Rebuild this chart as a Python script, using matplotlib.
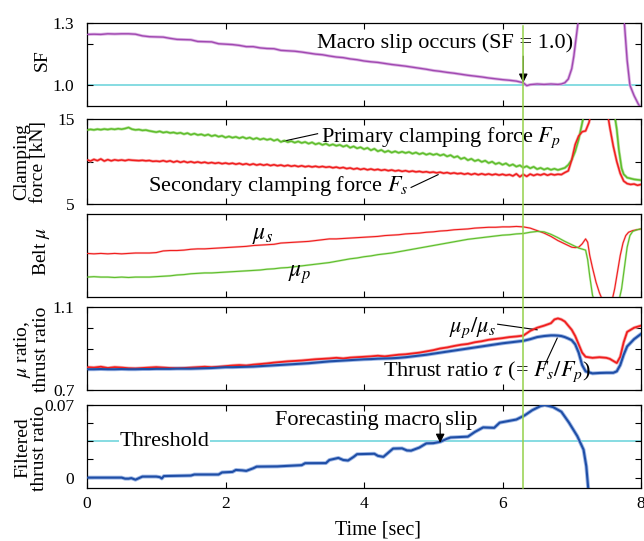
import numpy as np
import matplotlib
matplotlib.use("Agg")
import matplotlib.pyplot as plt
from matplotlib.lines import Line2D

plt.rcParams['font.family'] = ['Liberation Serif', 'DejaVu Serif']
plt.rcParams['mathtext.fontset'] = 'stix'

# ---------------- data ----------------
# Safety factor
sf_t = [0.0, 0.1, 0.2, 0.3, 0.4, 0.5, 0.6, 0.7, 0.8, 0.9,
        1.0, 1.1, 1.2, 1.3, 1.4, 1.5, 1.6, 1.7, 1.8, 1.9,
        2.0, 2.1, 2.2, 2.3, 2.4, 2.5, 2.6, 2.7, 2.8, 2.9,
        3.0, 3.1, 3.2, 3.3, 3.4, 3.5, 3.6, 3.7, 3.8, 3.9,
        4.0, 4.1, 4.2, 4.3, 4.4, 4.5, 4.6, 4.7, 4.8, 4.9,
        5.0, 5.1, 5.2, 5.3, 5.4, 5.5, 5.6, 5.7, 5.8, 5.9,
        6.0, 6.1, 6.2, 6.3, 6.35, 6.4, 6.5, 6.6, 6.7, 6.8, 6.85,
        6.9, 6.95, 7.0, 7.03, 7.06, 7.09, 7.12, 7.72, 7.76, 7.8,
        7.84, 7.9, 7.96, 8.0]
sf = [1.245, 1.246, 1.245, 1.248, 1.247, 1.248, 1.248, 1.246, 1.238, 1.234,
      1.233, 1.232, 1.226, 1.221, 1.220, 1.219, 1.211, 1.210, 1.209, 1.200,
      1.198, 1.196, 1.192, 1.186, 1.186, 1.180, 1.177, 1.176, 1.168, 1.166,
      1.164, 1.160, 1.155, 1.150, 1.147, 1.141, 1.136, 1.133, 1.127, 1.123,
      1.117, 1.113, 1.110, 1.105, 1.100, 1.096, 1.092, 1.087, 1.082, 1.077,
      1.071, 1.067, 1.062, 1.058, 1.053, 1.048, 1.044, 1.040, 1.035, 1.031,
      1.027, 1.024, 1.020, 1.012, 0.998, 1.003, 1.006, 1.004, 1.006, 1.004, 1.006,
      1.012, 1.030, 1.080, 1.140, 1.220, 1.300, 1.380, 1.380, 1.300, 1.120,
      1.000, 0.950, 0.910, 0.890]

# Clamping forces [kN], sampled every 0.05 s up to 6.95 s
force_t = np.round(np.arange(0, 7.0, 0.05), 2)
fp_main = [
    13.70, 13.78, 13.72, 13.80, 13.74, 13.82, 13.76, 13.84, 13.78, 13.86, 13.80, 13.88, 14.00, 13.80, 13.72, 13.76, 13.66, 13.70, 13.60, 13.52,
    13.45, 13.55, 13.40, 13.48, 13.36, 13.42, 13.30, 13.38, 13.22, 13.34, 13.15, 13.28, 13.12, 13.20, 13.05, 13.18, 12.98, 13.10, 12.92, 13.02,
    12.82, 12.95, 12.80, 12.90, 12.74, 12.88, 12.70, 12.82, 12.62, 12.76, 12.58, 12.70, 12.55, 12.66, 12.45, 12.60, 12.30, 12.46, 12.28, 12.40,
    12.22, 12.36, 12.18, 12.30, 12.10, 12.25, 12.02, 12.16, 11.95, 12.10, 11.88, 12.02, 11.85, 11.96, 11.75, 11.90, 11.62, 11.78, 11.55, 11.68,
    11.45, 11.60, 11.32, 11.50, 11.20, 11.36, 11.10, 11.26, 11.05, 11.20, 11.02, 11.15, 11.00, 11.12, 10.92, 11.06, 10.86, 11.00, 10.80, 10.94,
    10.78, 10.90, 10.70, 10.84, 10.60, 10.75, 10.48, 10.62, 10.30, 10.45, 10.15, 10.32, 10.05, 10.20, 9.95, 10.10, 9.82, 9.98, 9.70, 9.85,
    9.62, 9.78, 9.50, 9.66, 9.40, 9.55, 9.28, 9.45, 9.20, 9.38, 9.10, 9.25, 9.05, 9.20, 9.02, 9.15, 9.00, 9.12, 9.25, 9.60]
fp_tail_t = [7.0, 7.05, 7.1, 7.15, 7.2, 7.6, 7.65, 7.68, 7.72, 7.75, 7.8, 7.85, 7.9, 7.95, 8.0]
fp_tail = [10.2, 11.2, 12.6, 14.5, 16.5, 16.5, 13.8, 11.4, 9.2, 8.5, 8.1, 8.0, 7.9, 7.85, 7.8]

fs_main = [
    10.20, 10.05, 10.25, 10.10, 10.30, 10.05, 10.22, 10.08, 10.20, 10.12, 10.18, 10.10, 10.20, 10.15, 10.12, 10.10, 10.14, 10.08, 10.12, 10.02,
    10.05, 10.00, 10.10, 9.98, 10.08, 9.92, 10.05, 9.90, 10.02, 9.88, 9.98, 9.86, 9.95, 9.84, 9.92, 9.80, 9.88, 9.78, 9.86, 9.74,
    9.82, 9.72, 9.80, 9.68, 9.78, 9.64, 9.74, 9.60, 9.72, 9.58, 9.68, 9.56, 9.66, 9.52, 9.62, 9.50, 9.58, 9.46, 9.56, 9.44,
    9.52, 9.40, 9.50, 9.38, 9.46, 9.36, 9.44, 9.34, 9.42, 9.32, 9.38, 9.26, 9.34, 9.22, 9.30, 9.16, 9.24, 9.10, 9.20, 9.06,
    9.16, 9.02, 9.12, 9.00, 9.08, 8.96, 9.04, 8.92, 9.00, 8.88, 8.96, 8.84, 8.92, 8.80, 8.88, 8.78, 8.84, 8.74, 8.80, 8.70,
    8.76, 8.66, 8.74, 8.62, 8.70, 8.58, 8.66, 8.56, 8.62, 8.50, 8.60, 8.46, 8.58, 8.44, 8.56, 8.44, 8.54, 8.42, 8.52, 8.40,
    8.50, 8.38, 8.46, 8.30, 8.55, 8.20, 8.48, 8.25, 8.52, 8.35, 8.50, 8.40, 8.55, 8.38, 8.52, 8.42, 8.50, 8.46, 8.70, 8.90]
fs_tail_t = [7.0, 7.05, 7.1, 7.15, 7.2, 7.25, 7.3, 7.5, 7.55, 7.6, 7.65, 7.7, 7.75, 7.8, 7.85, 7.9, 7.95, 8.0]
fs_tail = [10.2, 12.0, 13.0, 13.5, 13.6, 14.6, 16.5, 16.5, 14.0, 11.8, 10.0, 8.6, 7.7, 7.4, 7.3, 7.35, 7.2, 7.3]

# Belt friction coefficients (relative scale)
mu_t = [0.0, 0.1, 0.2, 0.3, 0.4, 0.5, 0.6, 0.7, 0.8, 0.9,
        1.0, 1.1, 1.2, 1.3, 1.4, 1.5, 1.6, 1.7, 1.8, 1.9,
        2.0, 2.1, 2.2, 2.3, 2.4, 2.5, 2.6, 2.7, 2.8, 2.9,
        3.0, 3.1, 3.2, 3.3, 3.4, 3.5, 3.6, 3.7, 3.8, 3.9,
        4.0, 4.1, 4.2, 4.3, 4.4, 4.5, 4.6, 4.7, 4.8, 4.9,
        5.0, 5.1, 5.2, 5.3, 5.4, 5.5, 5.6, 5.7, 5.8, 5.9,
        6.0, 6.1, 6.2, 6.3, 6.4, 6.5, 6.6, 6.7, 6.8, 6.9, 7.0]
mu_s_main = [0.525, 0.520, 0.525, 0.520, 0.525, 0.520, 0.525, 0.530, 0.530, 0.530,
             0.535, 0.555, 0.560, 0.560, 0.565, 0.575, 0.580, 0.580, 0.585, 0.590,
             0.595, 0.600, 0.605, 0.610, 0.620, 0.625, 0.630, 0.635, 0.650, 0.655,
             0.660, 0.665, 0.670, 0.680, 0.690, 0.700, 0.700, 0.705, 0.710, 0.715,
             0.720, 0.725, 0.730, 0.740, 0.745, 0.750, 0.760, 0.765, 0.770, 0.780,
             0.785, 0.795, 0.800, 0.810, 0.815, 0.820, 0.830, 0.835, 0.840, 0.840,
             0.845, 0.845, 0.850, 0.845, 0.830, 0.800, 0.770, 0.730, 0.680, 0.640, 0.600]
mu_s_tail_t = [7.05, 7.1, 7.15, 7.2, 7.23, 7.26, 7.3, 7.35, 7.4, 7.45, 7.58, 7.62, 7.66, 7.7, 7.74, 7.78, 7.82, 7.88, 7.94, 8.0]
mu_s_tail = [0.595, 0.600, 0.640, 0.700, 0.660, 0.500, 0.350, 0.180, 0.050, -0.050, -0.050, 0.100, 0.300, 0.500, 0.650, 0.740, 0.780, 0.800, 0.810, 0.820]

mu_p_main = [0.240, 0.245, 0.240, 0.240, 0.235, 0.240, 0.235, 0.240, 0.240, 0.240,
             0.245, 0.250, 0.255, 0.265, 0.270, 0.280, 0.285, 0.290, 0.290, 0.295,
             0.300, 0.305, 0.310, 0.315, 0.320, 0.325, 0.335, 0.340, 0.350, 0.355,
             0.365, 0.375, 0.385, 0.395, 0.405, 0.415, 0.430, 0.445, 0.460, 0.470,
             0.485, 0.495, 0.510, 0.520, 0.530, 0.545, 0.560, 0.575, 0.590, 0.605,
             0.620, 0.635, 0.650, 0.665, 0.680, 0.695, 0.705, 0.715, 0.725, 0.735,
             0.745, 0.750, 0.760, 0.765, 0.780, 0.790, 0.785, 0.755, 0.715, 0.670, 0.630]
mu_p_tail_t = [7.1, 7.2, 7.23, 7.26, 7.3, 7.33, 7.68, 7.72, 7.76, 7.8, 7.84, 7.88, 7.94, 8.0]
mu_p_tail = [0.590, 0.565, 0.450, 0.250, 0.020, -0.050, -0.050, 0.100, 0.350, 0.600, 0.740, 0.790, 0.810, 0.820]

# Friction ratio and thrust ratio
ratio_t = [0.0, 0.1, 0.2, 0.3, 0.4, 0.5, 0.6, 0.7, 0.8, 0.9,
           1.0, 1.1, 1.2, 1.3, 1.4, 1.5, 1.6, 1.7, 1.8, 1.9,
           2.0, 2.1, 2.2, 2.3, 2.4, 2.5, 2.6, 2.7, 2.8, 2.9,
           3.0, 3.1, 3.2, 3.3, 3.4, 3.5, 3.6, 3.7, 3.8, 3.9,
           4.0, 4.1, 4.2, 4.3, 4.4, 4.5, 4.6, 4.7, 4.8, 4.9,
           5.0, 5.1, 5.2, 5.3, 5.4, 5.5, 5.6, 5.7, 5.8, 5.9,
           6.0, 6.1, 6.2, 6.3, 6.4, 6.5, 6.6, 6.7, 6.75, 6.8, 6.85,
           6.9, 6.95, 7.0, 7.05, 7.1, 7.15, 7.2, 7.3, 7.4, 7.5,
           7.55, 7.6, 7.65, 7.7, 7.75, 7.8, 7.9, 8.0]
mu_ratio = [0.810, 0.808, 0.812, 0.806, 0.810, 0.808, 0.805, 0.804, 0.806, 0.808,
            0.810, 0.808, 0.806, 0.805, 0.806, 0.808, 0.810, 0.812, 0.810, 0.812,
            0.815, 0.818, 0.820, 0.818, 0.822, 0.825, 0.828, 0.832, 0.835, 0.838,
            0.840, 0.842, 0.845, 0.848, 0.850, 0.852, 0.855, 0.852, 0.856, 0.858,
            0.860, 0.862, 0.865, 0.862, 0.866, 0.870, 0.872, 0.876, 0.880, 0.886,
            0.892, 0.900, 0.905, 0.912, 0.918, 0.922, 0.930, 0.935, 0.942, 0.946,
            0.950, 0.955, 0.958, 0.962, 0.985, 1.000, 1.010, 1.022, 1.040, 1.045, 1.040,
            1.030, 1.010, 0.990, 0.960, 0.920, 0.880, 0.860, 0.855, 0.858, 0.855,
            0.850, 0.840, 0.830, 0.860, 0.930, 0.980, 1.000, 1.010]
thrust_ratio = [0.800, 0.800, 0.801, 0.800, 0.800, 0.801, 0.800, 0.800, 0.801, 0.801,
                0.802, 0.802, 0.802, 0.803, 0.803, 0.803, 0.804, 0.805, 0.806, 0.808,
                0.810, 0.810, 0.811, 0.812, 0.813, 0.815, 0.817, 0.819, 0.821, 0.823,
                0.825, 0.827, 0.829, 0.832, 0.835, 0.838, 0.840, 0.842, 0.844, 0.846,
                0.848, 0.849, 0.851, 0.852, 0.853, 0.855, 0.858, 0.862, 0.866, 0.870,
                0.875, 0.880, 0.885, 0.890, 0.895, 0.900, 0.905, 0.910, 0.915, 0.920,
                0.925, 0.929, 0.933, 0.937, 0.945, 0.955, 0.960, 0.963, 0.963, 0.962, 0.960,
                0.955, 0.948, 0.940, 0.920, 0.880, 0.820, 0.790, 0.780, 0.782, 0.783,
                0.783, 0.783, 0.790, 0.820, 0.870, 0.910, 0.945, 0.970]

# Filtered thrust ratio
filt_t = [0.0, 0.5, 0.55, 0.6, 0.64, 0.7, 0.75, 0.8, 1.0, 1.05, 1.08, 1.11,
          1.5, 1.55, 1.9, 1.95, 2.1, 2.15, 2.24, 2.3, 2.4, 2.45, 2.75, 2.8,
          3.1, 3.15, 3.45, 3.5, 3.63, 3.7, 3.77, 3.85, 3.9, 4.15, 4.2, 4.28,
          4.35, 4.42, 4.55, 4.62, 4.68, 4.8, 4.9, 5.0, 5.1, 5.2, 5.25, 5.5,
          5.6, 5.72, 5.88, 5.96, 6.2, 6.32, 6.43, 6.55, 6.61, 6.73, 6.85, 6.96,
          7.08, 7.17, 7.21, 7.24]
filt = [0.0000, 0.0000, -0.0010, -0.0010, -0.0005, -0.0020, -0.0005, 0.0010, 0.0010, 0.0005, -0.0008, 0.0015,
        0.0020, 0.0030, 0.0030, 0.0050, 0.0055, 0.0074, 0.0070, 0.0065, 0.0090, 0.0106, 0.0108, 0.0110,
        0.0120, 0.0139, 0.0140, 0.0170, 0.0190, 0.0170, 0.0165, 0.0200, 0.0226, 0.0230, 0.0210, 0.0200,
        0.0240, 0.0280, 0.0282, 0.0262, 0.0260, 0.0290, 0.0330, 0.0332, 0.0345, 0.0375, 0.0387, 0.0395,
        0.0440, 0.0484, 0.0480, 0.0530, 0.0560, 0.0600, 0.0650, 0.0690, 0.0700, 0.0680, 0.0635, 0.0530,
        0.0400, 0.0270, 0.0110, -0.0120]

sf_limit = 1.0
threshold = 0.035
slip_time = 6.3
forecast_time = 5.1

# ---------------- styling ----------------
PURPLE = '#a048b0'
GREEN = '#5fbd2c'
RED = '#f01e1e'
BLUE = '#1f4ea6'
CYAN = '#66d2da'
MARK = '#95d14a'
TXT = 16
LAB = 14
TICK = 12.5

W, H = 644, 541
fig = plt.figure(figsize=(W / 100, H / 100), dpi=100)


def rect(top, bottom, left=87, right=641):
    return [left / W, 1 - bottom / H, (right - left) / W, (bottom - top) / H]


panels = [(23, 106), (119, 204), (214, 297), (307, 390), (405, 488)]
axes = [fig.add_axes(rect(t, b)) for t, b in panels]

for ax in axes:
    ax.set_xlim(0, 8)
    ax.set_xticks([0, 2, 4, 6, 8])
    ax.tick_params(direction='in', top=True, right=True, length=4, width=0.8,
                   labelsize=TICK, pad=9)
    ax.tick_params(axis='x', labelbottom=False)
    for s in ax.spines.values():
        s.set_linewidth(0.9)
axes[-1].tick_params(axis='x', labelbottom=True, pad=6)


def halo_plot(ax, x, y, color, lw, halo, hw):
    ax.plot(x, y, color=halo, lw=hw, solid_capstyle='round', zorder=2)
    ax.plot(x, y, color=color, lw=lw, zorder=3)


# Panel 1: SF
ax = axes[0]
ax.axhline(sf_limit, color=CYAN, lw=1.1, zorder=1)
halo_plot(ax, sf_t, sf, PURPLE, 1.0, '#dcb4e4', 2.2)
ax.set_ylim(0.9, 1.3)
ax.set_yticks([1.0, 1.2, 1.3])
ax.set_yticklabels(['1.0', '', '1.3'])
ax.text(5.17, 1.204, 'Macro slip occurs (SF = 1.0)', fontsize=TXT,
        ha='center', va='center', zorder=6)
ax.annotate('', xy=(slip_time, 1.012), xytext=(slip_time, 1.14),
            arrowprops=dict(arrowstyle='-|>', color='black', lw=0.9,
                            mutation_scale=13, shrinkA=0, shrinkB=0), zorder=7)

# Panel 2: clamping forces
ax = axes[1]
halo_plot(ax, list(force_t) + fp_tail_t, fp_main + fp_tail, GREEN, 1.1, '#b8e4a0', 2.1)
halo_plot(ax, list(force_t) + fs_tail_t, fs_main + fs_tail, RED, 1.1, '#f8a8a8', 2.1)
ax.set_ylim(5, 15)
ax.set_yticks([5, 10, 15])
ax.set_yticklabels(['5', '', '15'])
ax.text(3.38, 12.8, 'Primary clamping force $F_p$', fontsize=TXT, ha='left', va='center')
ax.plot([2.82, 3.33], [12.36, 13.27], color='black', lw=0.8)
ax.text(0.88, 7.15, 'Secondary clamping force $F_s$', fontsize=TXT, ha='left', va='center')
ax.plot([4.68, 5.07], [6.95, 8.45], color='black', lw=0.8)

# Panel 3: belt friction coefficients
ax = axes[2]
halo_plot(ax, mu_t + mu_s_tail_t, mu_s_main + mu_s_tail, RED, 0.8, '#fac0c0', 1.6)
halo_plot(ax, mu_t + mu_p_tail_t, mu_p_main + mu_p_tail, GREEN, 0.8, '#c8ecb4', 1.6)
ax.set_ylim(0, 1)
ax.set_yticks([])
ax.text(2.53, 0.735, r'$\mu_s$', fontsize=TXT + 1, ha='center', va='center')
ax.text(3.07, 0.265, r'$\mu_p$', fontsize=TXT + 1, ha='center', va='center')

# Panel 4: friction ratio and thrust ratio
ax = axes[3]
halo_plot(ax, ratio_t, mu_ratio, RED, 1.3, '#f8b0b0', 2.4)
halo_plot(ax, ratio_t, thrust_ratio, BLUE, 1.5, '#9fb8e6', 2.8)
ax.set_ylim(0.7, 1.1)
ax.set_yticks([0.7, 0.8, 0.9, 1.0, 1.1])
ax.set_yticklabels(['0.7', '', '', '', '1.1'])
ax.text(5.56, 0.999, r'$\mu_p/\mu_s$', fontsize=TXT, ha='center', va='center')
ax.plot([5.93, 6.5], [1.017, 0.99], color='black', lw=0.8)
ax.text(5.77, 0.787, r'Thrust ratio $\tau$ (= $F_s/F_p$)', fontsize=TXT,
        ha='center', va='center')
ax.plot([6.61, 6.79], [0.82, 0.95], color='black', lw=0.8)

# Panel 5: filtered thrust ratio
ax = axes[4]
ax.axhline(threshold, color=CYAN, lw=1.1, zorder=1)
halo_plot(ax, filt_t, filt, BLUE, 1.5, '#9fb8e6', 2.8)
ax.set_ylim(-0.01, 0.07)
ax.set_yticks([0, 0.0175, 0.035, 0.0525, 0.07])
ax.set_yticklabels(['0', '', '', '', '0.07'])
ax.text(1.12, threshold, 'Threshold', fontsize=TXT, ha='center', va='center',
        bbox=dict(facecolor='white', edgecolor='none', pad=0.5), zorder=5)
ax.text(4.18, 0.0555, 'Forecasting macro slip', fontsize=TXT, ha='center',
        va='center', zorder=5)
ax.annotate('', xy=(forecast_time, 0.0335), xytext=(forecast_time, 0.0527),
            arrowprops=dict(arrowstyle='-|>', color='black', lw=0.9,
                            mutation_scale=13, shrinkA=0, shrinkB=0), zorder=7)

# Vertical marker at the macro-slip instant, spanning all panels
inv = fig.transFigure.inverted()
xf = inv.transform(axes[0].transData.transform((slip_time, 1.0)))[0]
fig.add_artist(Line2D([xf, xf], [1 - 26 / H, 1 - 488 / H], color=MARK, lw=1.1, zorder=5))

# Axis labels
def ylab(x_px, y_px, s):
    fig.text(x_px / W, 1 - y_px / H, s, rotation=90, ha='center', va='center',
             fontsize=LAB, multialignment='center', linespacing=0.95)


ylab(42, 60, 'SF')
ylab(30, 162, 'Clamping\nforce [kN]')
ylab(42, 252, r'Belt $\mu$')
ylab(31, 349, '$\\mu$ ratio,\nthrust ratio')
ylab(31, 448, 'Filtered\nthrust ratio')
fig.text(378 / W, 1 - 530 / H, 'Time [sec]', ha='center', va='center', fontsize=LAB + 0.5)

fig.savefig('out.png', dpi=100)
